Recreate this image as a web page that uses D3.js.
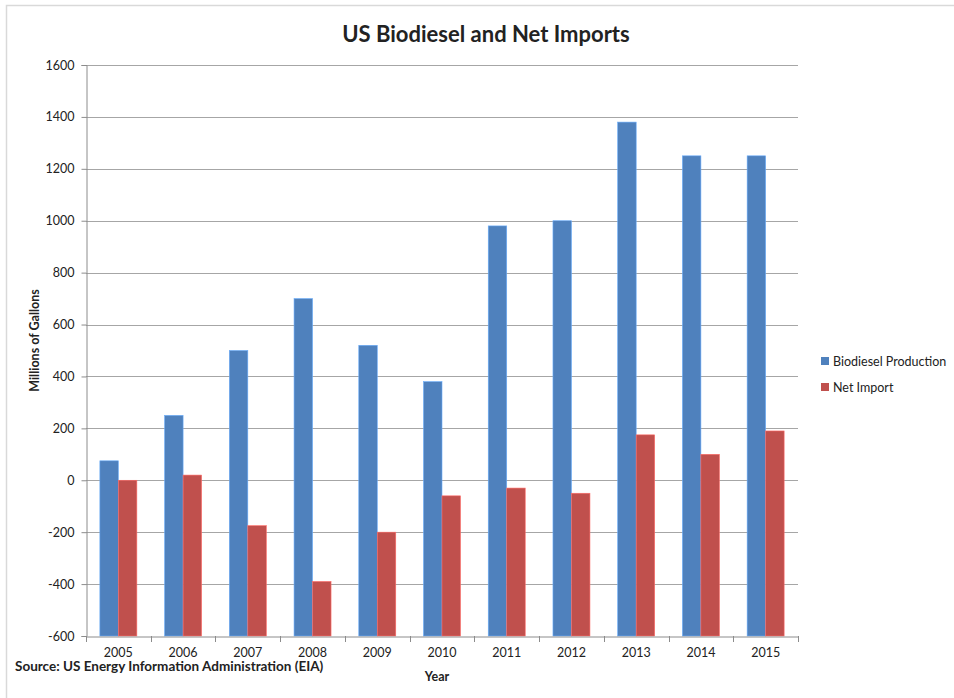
<!DOCTYPE html>
<html>
<head>
<meta charset="utf-8">
<script src="https://cdn.jsdelivr.net/npm/d3@7"></script>
<style>
  html, body { margin: 0; padding: 0; background: #fff; }
  svg { display: block; }
  text { font-family: Lato, "Open Sans", sans-serif; fill: #222; }
</style>
</head>
<body>
<svg id="chart" width="954" height="698"></svg>
<script>
// US biodiesel production and net imports, millions of gallons
const years = ["2005", "2006", "2007", "2008", "2009", "2010", "2011", "2012", "2013", "2014", "2015"];
const production = [75, 250, 500, 700, 520, 380, 980, 1000, 1380, 1250, 1250];
const netImport = [0, 20, -175, -390, -200, -60, -30, -50, 175, 100, 190];
const seriesNames = ["Biodiesel Production", "Net Import"];
const seriesColors = ["#4F81BD", "#C0504D"];
const yTicks = [-600, -400, -200, 0, 200, 400, 600, 800, 1000, 1200, 1400, 1600];

const svg = d3.select("#chart");
const W = 954, H = 698;
const plot = { left: 86, right: 798, top: 65, bottom: 636 };

// outer chart frame
svg.append("rect")
  .attr("x", 6.5).attr("y", 5.5)
  .attr("width", W + 10).attr("height", H + 10)
  .attr("fill", "none").attr("stroke", "#d9d9d9").attr("stroke-width", 1.5);

const x = d3.scaleBand().domain(years).range([plot.left, plot.right]).paddingInner(0).paddingOuter(0);
const y = d3.scaleLinear().domain([-600, 1600]).range([plot.bottom, plot.top]);

// bar width: two bars per group with a 150% gap
const barW = x.bandwidth() / 3.5;
const x1 = d3.scaleBand().domain(seriesNames).range([0.75 * barW, 2.75 * barW]);

// gridlines
svg.append("g").selectAll("line")
  .data(yTicks.filter(t => t !== -600))
  .join("line")
  .attr("x1", plot.left).attr("x2", plot.right)
  .attr("y1", d => Math.round(y(d)) + 0.5).attr("y2", d => Math.round(y(d)) + 0.5)
  .attr("stroke", "#a6a6a6").attr("stroke-width", 1);

// bars (columns rise from the axis floor at -600)
const data = years.map((yr, i) => ({ year: yr, values: [production[i], netImport[i]] }));
const groups = svg.append("g").selectAll("g")
  .data(data).join("g")
  .attr("transform", d => `translate(${x(d.year)},0)`);
groups.selectAll("rect")
  .data(d => d.values.map((v, j) => ({ name: seriesNames[j], value: v, color: seriesColors[j] })))
  .join("rect")
  .attr("x", d => x1(d.name))
  .attr("width", x1.bandwidth())
  .attr("y", d => y(d.value))
  .attr("height", d => y(-600) - y(d.value))
  .attr("fill", d => d.color)
  .attr("stroke", d => d3.color(d.color).brighter(0.8))
  .attr("stroke-width", 0.6);

// y axis
const yAxis = d3.axisLeft(y).tickValues(yTicks).tickSize(5).tickPadding(7).tickFormat(d => String(d));
const gy = svg.append("g").attr("transform", `translate(${plot.left + 0.5},0)`).call(yAxis);
gy.select(".domain").attr("stroke", "#8c8c8c");
gy.selectAll(".tick line").attr("stroke", "#8c8c8c");
gy.selectAll(".tick text").attr("font-size", 12.5).attr("fill", "#222")
  .style("font-family", "Lato, 'Open Sans', sans-serif");

// x axis with ticks between categories
const xAxis = d3.axisBottom(x).tickSize(0).tickPadding(12);
const gx = svg.append("g").attr("transform", `translate(0,${plot.bottom + 0.5})`).call(xAxis);
gx.select(".domain").attr("stroke", "#8c8c8c");
gx.selectAll(".tick text").attr("font-size", 12.5).attr("fill", "#222")
  .style("font-family", "Lato, 'Open Sans', sans-serif");
svg.append("g").selectAll("line")
  .data(years.concat(["end"]))
  .join("line")
  .attr("x1", (d, i) => Math.round(plot.left + i * x.bandwidth()) + 0.5)
  .attr("x2", (d, i) => Math.round(plot.left + i * x.bandwidth()) + 0.5)
  .attr("y1", plot.bottom).attr("y2", plot.bottom + 6)
  .attr("stroke", "#8c8c8c");

// title
svg.append("text")
  .attr("x", 486).attr("y", 42)
  .attr("text-anchor", "middle")
  .attr("font-size", 22).attr("font-weight", "bold")
  .attr("fill", "#111")
  .text("US Biodiesel and Net Imports");

// axis titles
svg.append("text")
  .attr("transform", `translate(39,${(plot.top + plot.bottom) / 2 - 10}) rotate(-90)`)
  .attr("text-anchor", "middle")
  .attr("font-size", 12.5).attr("font-weight", "bold")
  .text("Millions of Gallons");
svg.append("text")
  .attr("x", 437).attr("y", 681)
  .attr("text-anchor", "middle")
  .attr("font-size", 12.5).attr("font-weight", "bold")
  .text("Year");

// source note
svg.append("text")
  .attr("x", 15).attr("y", 671)
  .attr("font-size", 13.5).attr("font-weight", "bold")
  .attr("fill", "#111")
  .text("Source: US Energy Information Administration (EIA)");

// legend
const legend = svg.append("g").attr("transform", "translate(821,357)");
seriesNames.forEach((name, i) => {
  const row = legend.append("g").attr("transform", `translate(0,${i * 26})`);
  row.append("rect").attr("width", 8).attr("height", 8).attr("fill", seriesColors[i]);
  row.append("text").attr("x", 12).attr("y", 8.5).attr("font-size", 12.5).text(name);
});
</script>
</body>
</html>
